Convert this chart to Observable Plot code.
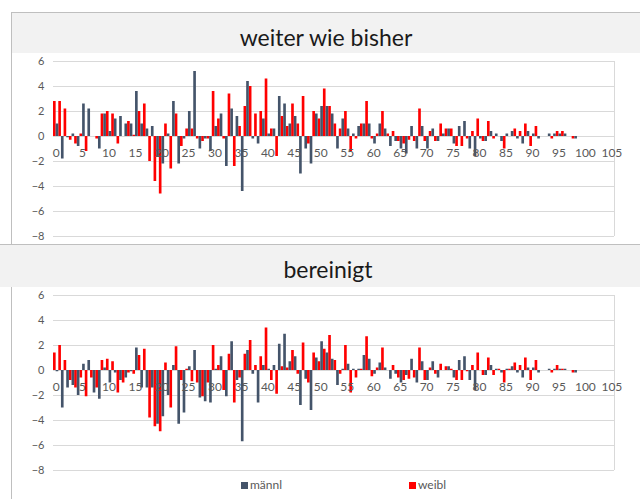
<!DOCTYPE html>
<html><head><meta charset="utf-8">
<script src="https://cdn.jsdelivr.net/npm/d3@7"></script>
<script src="https://cdn.jsdelivr.net/npm/@observablehq/plot@0.6"></script>
<style>
body{margin:0;background:#fff;font-family:Lato,"Open Sans",sans-serif;}
#wrap{position:relative;width:640px;height:499px;overflow:hidden;background:#fff;}
.line{position:absolute;background:#bfbfbf;}
.band{position:absolute;background:#f2f2f2;color:#1a1a1a;font-size:23px;text-align:center;}
.band span{position:absolute;left:0;right:0;}
.chart{position:absolute;left:0;}
.leg{position:absolute;font-size:12px;color:#595959;line-height:12px;}
.sw{position:absolute;width:7px;height:7px;}
</style></head>
<body><div id="wrap">
<div class="line" style="left:11px;top:12px;width:629px;height:1px"></div>
<div class="line" style="left:11px;top:12px;width:1px;height:487px"></div>
<div class="band" style="left:12px;top:13px;width:628px;height:40px"><span style="top:10px">weiter wie bisher</span></div>
<div id="c1" class="chart" style="top:53px"></div>
<div class="line" style="left:0px;top:244px;width:640px;height:1px"></div>
<div class="band" style="left:0px;top:245px;width:640px;height:42px"><span style="top:10px;left:16px">bereinigt</span></div>
<div id="c2" class="chart" style="top:287px"></div>
<div class="sw" style="left:241px;top:482px;background:#44546a"></div>
<div class="leg" style="left:250px;top:479px">männl</div>
<div class="sw" style="left:409px;top:482px;background:#ff0000"></div>
<div class="leg" style="left:418px;top:479px">weibl</div>
</div>
<script>
// categories: age 0..105
const ages = d3.range(0, 106);
const xTicks = [0,5,10,15,20,25,30,35,40,45,50,55,60,65,70,75,80,85,90,95,100,105];
const yTicks = [-8,-6,-4,-2,0,2,4,6];
const seriesNames = ["männl", "weibl"];
const colors = ["#44546a", "#ff0000"];

// "weiter wie bisher" — values for ages 0..98
const weiterMaennl = [1.0,-1.8,-0.1,0.2,-0.8,2.6,2.2,0,-1.0,1.8,0.4,1.4,1.6,1.0,1.0,3.6,1.0,0.6,0.8,-1.6,-2.2,0.2,2.8,-2.2,-0.2,2.0,5.2,-1.0,-0.2,-1.2,0.8,1.8,-2.4,2.2,1.6,-4.4,4.4,-0.2,-0.6,1.4,0.2,0.6,3.2,2.6,1.0,1.6,-3.0,-1.0,-2.2,1.8,2.4,2.4,1.8,-1.0,1.4,0.6,0.2,0.8,1.0,1.0,-0.6,1.0,0.6,-0.8,-0.4,-1.0,-1.4,0.8,-1.0,0.8,-1.0,0.6,-0.4,0.2,0.6,-0.6,0.8,1.2,-1.0,-1.6,-0.2,-0.4,0.4,0.2,-0.4,0.2,0.4,-0.2,-0.6,0.4,0.2,-0.2,0,0.2,0.2,0.2,0.2,0,-0.2];
const weiterWeibl = [2.8,2.8,2.2,-0.3,-0.6,0.2,-1.2,0,-0.2,1.8,2.0,1.8,-0.6,0,1.2,0.1,2.0,2.6,-2.0,-3.6,-4.6,1.0,-2.6,1.8,-0.8,0.6,0.6,-0.2,-0.4,-0.2,3.6,1.4,-0.2,3.4,-2.4,0.8,2.4,4.0,1.8,2.0,4.6,0.6,-1.6,1.6,0.8,2.6,1.0,3.2,-0.6,2.0,1.4,3.8,2.4,1.0,0.6,2.0,-1.2,-0.2,1.0,2.8,-0.2,0.2,2.0,0.2,0.4,-0.4,-0.6,-0.3,-0.4,2.2,-0.4,0.4,-0.4,1.0,0.6,0.6,-0.8,-0.8,-0.2,0.4,1.4,-0.4,1.2,-0.2,0,-1.0,0,0.6,0.4,1.0,-0.8,0.8,0,0,-0.2,0.4,0.4,0,-0.2];

// "bereinigt" — values for ages 0..98
const bereinigtMaennl = [-0.1,-3.0,-1.4,-1.2,-2.0,0.5,0.8,-1.8,-2.3,0.2,-1.0,-0.2,-0.8,-0.6,-0.1,1.8,-1.4,-1.4,-1.4,-4.3,-3.7,-2.0,0.4,-4.3,-3.4,0.3,1.6,-2.2,-2.5,-2.6,0.1,1.1,-2.1,2.3,-0.8,-5.7,1.6,-0.3,-2.6,0.4,0.1,0.4,2.1,2.9,0.7,1.1,-2.8,-0.7,-3.2,1.0,2.3,1.4,0.9,-1.2,0.1,0.5,0.1,0.1,1.2,0.9,-0.3,0.6,0.2,-0.7,-0.3,-1.0,-0.4,0.9,-1.0,0.7,-0.8,0.7,-0.6,0,0.3,-0.6,0.8,1.1,-0.8,-1.6,0,-0.4,0.4,0.1,-0.2,0.1,0.3,-0.2,-0.6,0.2,0.2,-0.2,0,0.1,0.1,0.1,0.1,0,-0.2];
const bereinigtWeibl = [1.4,2.0,0.8,-0.8,-1.4,-0.6,-2.1,-0.6,-1.4,0.8,0.9,0.7,-1.8,-1.0,-0.2,-0.3,1.2,1.7,-3.8,-4.5,-4.9,0.6,-3.0,1.9,-0.8,0.1,-0.9,-1.0,-2.1,-1.0,2.0,0.4,-1.6,1.3,-2.6,-0.6,1.3,2.4,0.4,1.1,3.4,-0.8,-1.9,0.3,0.2,1.6,-0.3,2.2,-1.0,1.4,0.7,1.7,2.8,0.8,-0.3,2.0,-1.8,-0.6,0.1,2.7,-0.5,0.2,1.8,0,0.4,-0.6,-0.8,-0.7,-0.6,1.8,-0.8,0.2,-0.3,0.5,0.3,0.1,-0.8,-0.8,-0.1,0.4,1.4,-0.4,1.0,-0.4,0.1,-1.0,0.1,0.6,0.4,1.0,-0.8,0.8,0,0,-0.2,0.4,0.1,0,-0.2];

const W = 640, H = 192, ML = 53, MR = 26, MT = 8, MB = 9;
const half = (W - ML - MR) / ages.length / 2;

function chart(m, w) {
  const rows = m.map((v, i) => ({age: ages[i], m: v, w: w[i]}));
  return Plot.plot({
    width: W, height: H,
    marginLeft: ML, marginRight: MR, marginTop: MT, marginBottom: MB,
    style: {fontFamily: "Lato, 'Open Sans', sans-serif", fontSize: "11px", color: "#595959", background: "transparent"},
    x: {type: "band", domain: ages, padding: 0, axis: null},
    y: {domain: [-8, 6], axis: null},
    marks: [
      Plot.ruleY(yTicks, {stroke: "#d9d9d9", strokeWidth: 1}),
      Plot.ruleX([xTicks[xTicks.length - 1]], {stroke: "#d9d9d9", dx: half}),
      Plot.barY(rows, {x: "age", y: "w", fill: colors[1], insetRight: half}),
      Plot.barY(rows, {x: "age", y: "m", fill: colors[0], insetLeft: half}),
      Plot.axisY({ticks: yTicks, tickSize: 0, tickPadding: 9, label: null, fontSize: 11}),
      Plot.text(xTicks, {x: d => d, y: 0, dy: 17, text: d => String(d), fill: "#595959", fontSize: 12})
    ]
  });
}
document.getElementById("c1").append(chart(weiterMaennl, weiterWeibl));
document.getElementById("c2").append(chart(bereinigtMaennl, bereinigtWeibl));
</script>
</body></html>
